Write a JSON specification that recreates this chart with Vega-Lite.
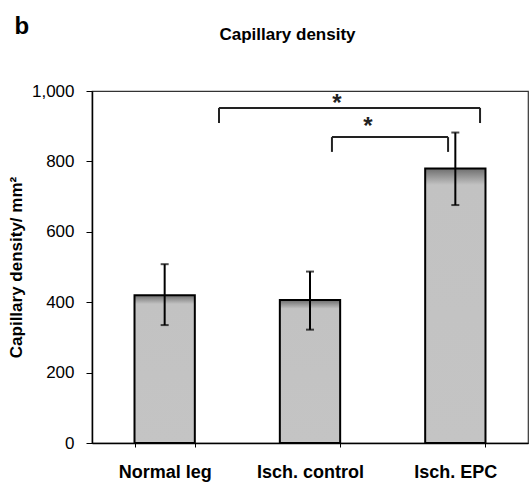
{
  "$schema": "https://vega.github.io/schema/vega-lite/v6.json",
  "width": 436,
  "height": 352,
  "autosize": "none",
  "padding": {"left": 92, "top": 91, "right": 3, "bottom": 39},
  "background": "white",
  "config": {
    "font": "Liberation Sans",
    "view": {"stroke": "#333333", "strokeWidth": 1.2}
  },
  "title": {
    "text": "b",
    "anchor": "start",
    "frame": "bounds",
    "fontSize": 24,
    "fontWeight": "bold",
    "color": "black",
    "dx": 7,
    "dy": 18
  },
  "datasets": {
    "bars": [
      {"group": "Normal leg", "mean": 420, "low": 335, "high": 508},
      {"group": "Isch. control", "mean": 406, "low": 322, "high": 487},
      {"group": "Isch. EPC", "mean": 780, "low": 676, "high": 882}
    ],
    "brackets": [
      {"x": 0.874, "x2": 0.874, "y": 909, "y2": 952},
      {"x": 0.874, "x2": 2.67, "y": 952, "y2": 952},
      {"x": 2.67, "x2": 2.67, "y": 909, "y2": 952},
      {"x": 1.651, "x2": 1.651, "y": 827, "y2": 869},
      {"x": 1.651, "x2": 2.45, "y": 869, "y2": 869},
      {"x": 2.45, "x2": 2.45, "y": 827, "y2": 869}
    ],
    "stars": [
      {"x": 1.686, "y": 962, "label": "*"},
      {"x": 1.899, "y": 897, "label": "*"}
    ]
  },
  "layer": [
    {
      "data": {"name": "bars"},
      "layer": [
        {
          "mark": {
            "type": "bar",
            "stroke": "black",
            "strokeWidth": 2,
            "fill": {
              "gradient": "linear",
              "x1": 0, "y1": 0, "x2": 0, "y2": 1,
              "stops": [
                {"offset": 0, "color": "#6e6e6e"},
                {"offset": 0.06, "color": "#c2c2c2"},
                {"offset": 1, "color": "#c4c4c4"}
              ]
            }
          },
          "encoding": {
            "x": {
              "field": "group",
              "type": "nominal",
              "sort": null,
              "scale": {"paddingInner": 0.585, "paddingOuter": 0.2925},
              "axis": {
                "title": null,
                "labelAngle": 0,
                "labelFontSize": 18,
                "labelFontWeight": "bold",
                "labelColor": "black",
                "labelPadding": 16,
                "tickBand": "extent",
                "tickSize": 4,
                "tickColor": "black",
                "domainColor": "black",
                "domainWidth": 1.5
              }
            },
            "y": {
              "field": "mean",
              "type": "quantitative",
              "title": "Capillary density/ mm²",
              "scale": {"domain": [0, 1000], "nice": false},
              "axis": {
                "titleFontSize": 17,
                "titleFontWeight": "bold",
                "titleColor": "black",
                "titlePadding": 6,
                "values": [0, 200, 400, 600, 800, 1000],
                "format": ",d",
                "labelFontSize": 17,
                "labelColor": "black",
                "labelPadding": 12,
                "tickSize": 6,
                "tickColor": "black",
                "domainColor": "black",
                "domainWidth": 1.5,
                "grid": false
              }
            }
          }
        },
        {
          "mark": {
            "type": "errorbar",
            "color": "black",
            "ticks": {"size": 8, "thickness": 2, "color": "black"},
            "rule": {"strokeWidth": 2, "color": "black"}
          },
          "encoding": {
            "x": {"field": "group", "type": "nominal", "sort": null},
            "y": {"field": "low", "type": "quantitative", "title": "Capillary density/ mm²"},
            "y2": {"field": "high"}
          }
        }
      ]
    },
    {
      "layer": [
        {
          "data": {"name": "brackets"},
          "mark": {"type": "rule", "stroke": "#222222", "strokeWidth": 2},
          "encoding": {
            "x": {
              "field": "x",
              "type": "quantitative",
              "scale": {"domain": [0, 3], "nice": false, "zero": false},
              "axis": {
                "orient": "top",
                "title": "Capillary density",
                "titleFontSize": 17,
                "titleFontWeight": "bold",
                "titleColor": "black",
                "titleX": 195,
                "titleY": -48,
                "labels": false,
                "ticks": false,
                "domain": false,
                "grid": false
              }
            },
            "x2": {"field": "x2"},
            "y": {"field": "y", "type": "quantitative", "title": "Capillary density/ mm²"},
            "y2": {"field": "y2"}
          }
        },
        {
          "data": {"name": "stars"},
          "mark": {"type": "text", "fontSize": 24, "fontWeight": "bold", "color": "#222222", "baseline": "middle"},
          "encoding": {
            "x": {"field": "x", "type": "quantitative", "title": "Capillary density"},
            "y": {"field": "y", "type": "quantitative", "title": "Capillary density/ mm²"},
            "text": {"field": "label"}
          }
        }
      ]
    }
  ],
  "resolve": {"scale": {"x": "independent"}}
}
